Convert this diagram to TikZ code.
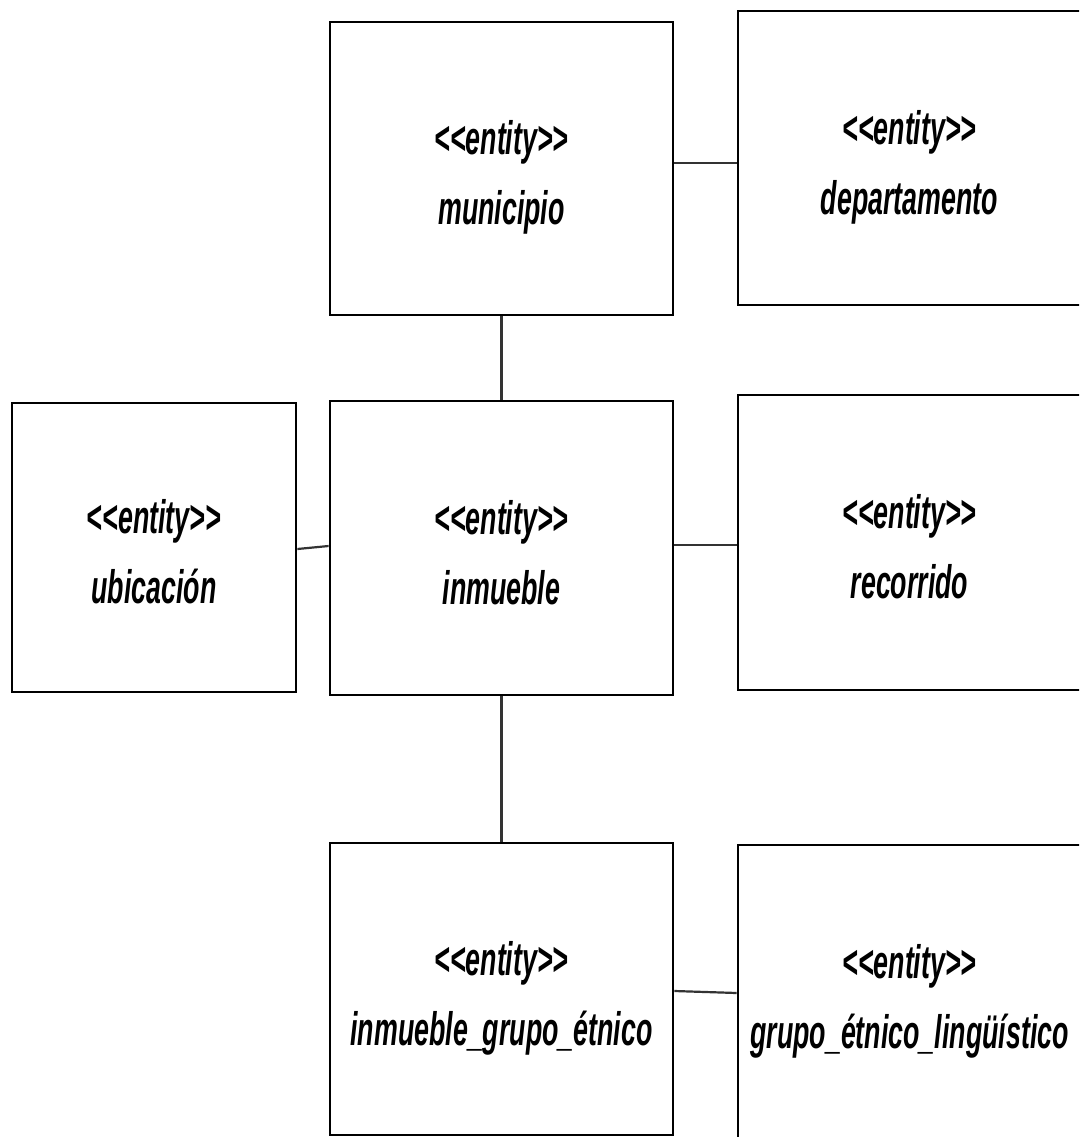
\documentclass[tikz,border=0pt]{standalone}
\usepackage{fontspec}
\setmainfont{Liberation Sans}
\begin{document}
\begin{tikzpicture}[x=1pt,y=-1pt,
  entity/.style={draw=black,line width=2.8pt,rectangle,inner sep=0pt,fill=white},
  link/.style={draw=black!80,line width=2.2pt},
  lbl/.style={anchor=base,inner sep=0pt,font=\fontsize{47}{50}\selectfont\bfseries\itshape}]
\newcommand\narrowtext[1]{\scalebox{0.57}[1]{#1}}
% stereotype text, kerns keep the angle brackets from joining into guillemets
\newcommand\stereotype{<\kern0pt<\kern0pt entity>\kern0pt>}
\useasboundingbox (0,0) rectangle (1079,1137);
\clip (0,0) rectangle (1079,1137);

% entity boxes
\node[entity,minimum width=343pt,minimum height=293pt] (mun) at (501.5,168.5) {};
\node[entity,minimum width=343pt,minimum height=294pt] (dep) at (909.5,158) {};
\node[entity,minimum width=284pt,minimum height=289pt] (ubi) at (154,547.5) {};
\node[entity,minimum width=343pt,minimum height=294pt] (inm) at (501.5,548) {};
\node[entity,minimum width=343pt,minimum height=295pt] (rec) at (909.5,542.5) {};
\node[entity,minimum width=343pt,minimum height=292pt] (ieg) at (501.5,989) {};
\node[entity,minimum width=343pt,minimum height=294pt] (gel) at (909.5,992) {};

% labels: stereotype line and entity name
\foreach \b/\n in {mun/municipio,dep/departamento,ubi/ubicación,inm/inmueble,rec/recorrido,ieg/inmueble\_grupo\_étnico,gel/grupo\_étnico\_lingüístico}{
  \node[lbl] (\b-st) at ([yshift=14pt]\b.center) {\narrowtext{\stereotype}};
  \node[lbl] (\b-nm) at ([yshift=-56pt]\b.center) {\narrowtext{\n}};
}

% associations
\draw[link] ([yshift=5.5pt]mun.east) -- ([yshift=-5pt]dep.west);
\draw[link] (mun.south) -- (inm.north);
\draw[link] ([yshift=-1.5pt]ubi.east) -- ([yshift=2pt]inm.west);
\draw[link] ([yshift=3pt]inm.east) -- ([yshift=-2.5pt]rec.west);
\draw[link] (inm.south) -- (ieg.north);
\draw[link] ([yshift=-2pt]ieg.east) -- ([yshift=-1pt]gel.west);
\end{tikzpicture}
\end{document}
